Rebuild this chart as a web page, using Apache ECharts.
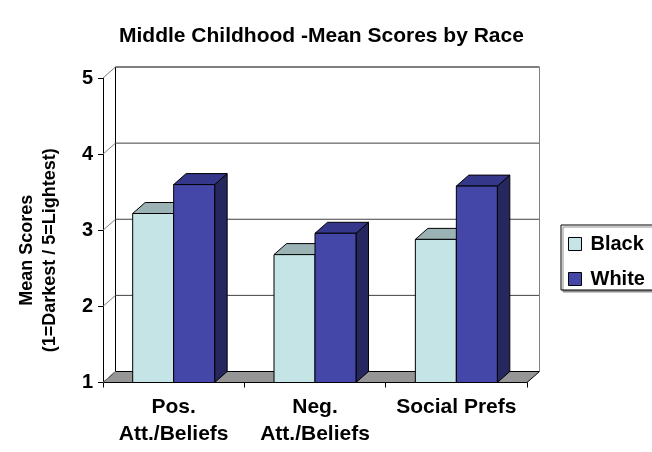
<!DOCTYPE html>
<html>
<head>
<meta charset="utf-8">
<script src="https://cdn.jsdelivr.net/npm/echarts@6/dist/echarts.min.js"></script>
<style>html,body{margin:0;padding:0;background:#fff}#c{width:652px;height:452px}</style>
</head>
<body>
<div id="c"></div>
<script>
const titleText = 'Middle Childhood -Mean Scores by Race';
const categories = ['Pos.\nAtt./Beliefs', 'Neg.\nAtt./Beliefs', 'Social Prefs'];
const seriesNames = ['Black', 'White'];
const blackValues = [3.22, 2.68, 2.88];
const whiteValues = [3.60, 2.96, 3.58];
const yTicks = [1, 2, 3, 4, 5];
const yAxisName = 'Mean Scores\n(1=Darkest / 5=Lightest)';

const FONT = '"Liberation Sans", Arial, sans-serif';
const DX = 12.5, DY = -11;
const BAR_FRAC = 0.29;
const yMin = yTicks[0], yMax = yTicks[yTicks.length - 1];

const colBlack = { front: '#C4E4E6', top: '#9BB3B5', side: '#7E9596' };
const colWhite = { front: '#4447A8', top: '#34378A', side: '#25275E' };

function bgRender(params, api) {
  const cs = params.coordSys;
  const x0 = cs.x, x1 = cs.x + cs.width;
  const yb = api.coord([0, yMin])[1];
  const yt = api.coord([0, yMax])[1];
  const children = [];
  children.push({ type: 'polygon', shape: { points: [[x0, yb], [x1, yb], [x1 + DX, yb + DY], [x0 + DX, yb + DY]] },
    style: { fill: '#969696', stroke: '#000', lineWidth: 1 } });
  yTicks.forEach(function (v) {
    if (v === yMin) return;
    const y = api.coord([0, v])[1];
    children.push({ type: 'line', shape: { x1: x0 + DX, y1: y + DY, x2: x1 + DX, y2: y + DY },
      style: { stroke: v === yMax ? '#000' : '#404040', lineWidth: 1 } });
  });
  children.push({ type: 'line', shape: { x1: x0 + DX, y1: yt + DY, x2: x0 + DX, y2: yb + DY }, style: { stroke: '#000', lineWidth: 1 } });
  children.push({ type: 'line', shape: { x1: x1 + DX, y1: yt + DY, x2: x1 + DX, y2: yb + DY }, style: { stroke: '#808080', lineWidth: 1 } });
  yTicks.forEach(function (v) {
    const y = api.coord([0, v])[1];
    children.push({ type: 'line', shape: { x1: x0, y1: y, x2: x0 + DX, y2: y + DY }, style: { stroke: '#808080', lineWidth: 1 } });
  });
  return { type: 'group', children: children };
}

function makeBarRender(sign, c) {
  return function (params, api) {
    const cat = api.value(0), val = api.value(1);
    const top = api.coord([cat, val]);
    const base = api.coord([cat, yMin]);
    const bw = api.size([1, 0])[0] * BAR_FRAC;
    const xL = sign < 0 ? top[0] - bw : top[0];
    const xR = xL + bw;
    const yT = top[1], yB = base[1];
    return { type: 'group', children: [
      { type: 'polygon', shape: { points: [[xR, yB], [xR + DX, yB + DY], [xR + DX, yT + DY], [xR, yT]] },
        style: { fill: c.side, stroke: '#000', lineWidth: 1 } },
      { type: 'polygon', shape: { points: [[xL, yT], [xL + DX, yT + DY], [xR + DX, yT + DY], [xR, yT]] },
        style: { fill: c.top, stroke: '#000', lineWidth: 1 } },
      { type: 'rect', shape: { x: xL, y: yT, width: bw, height: yB - yT },
        style: { fill: c.front, stroke: '#000', lineWidth: 1 } }
    ] };
  };
}

const chart = echarts.init(document.getElementById('c'), null, { renderer: 'canvas' });
chart.setOption({
  backgroundColor: '#fff',
  animation: false,
  title: { text: titleText, left: 114, top: 21,
    textStyle: { fontFamily: FONT, fontSize: 21, fontWeight: 'bold', color: '#000' } },
  legend: {
    orient: 'vertical', left: 561, top: 225,
    data: seriesNames, icon: 'rect', itemWidth: 13, itemHeight: 13, itemGap: 15,
    padding: [9, 30, 1, 7], borderColor: '#000', borderWidth: 1, backgroundColor: '#fff',
    shadowColor: '#909090', shadowOffsetX: 2, shadowOffsetY: 2, shadowBlur: 0,
    itemStyle: { borderColor: '#000', borderWidth: 1 },
    textStyle: { fontFamily: FONT, fontSize: 20, fontWeight: 'bold', color: '#000', padding: [0, 0, 0, 4] }
  },
  grid: { left: 103, top: 78, width: 424, height: 304.5, containLabel: false },
  xAxis: {
    type: 'category', data: categories, boundaryGap: true,
    axisLine: { show: true, lineStyle: { color: '#000', width: 1 } },
    axisTick: { show: true, length: 5, lineStyle: { color: '#000' } },
    axisLabel: { interval: 0, hideOverlap: false, fontFamily: FONT, fontSize: 21, fontWeight: 'bold', color: '#000', margin: 11, lineHeight: 27 },
    splitLine: { show: false }
  },
  yAxis: {
    type: 'value', min: yMin, max: yMax, interval: 1,
    name: yAxisName, nameLocation: 'middle', nameRotate: 90, nameGap: 41,
    nameTextStyle: { fontFamily: FONT, fontSize: 18, fontWeight: 'bold', color: '#000', lineHeight: 23, padding: [0, 40, 0, 0] },
    axisLine: { show: true, lineStyle: { color: '#000', width: 1 } },
    axisTick: { show: true, length: 5, lineStyle: { color: '#000' } },
    axisLabel: { fontFamily: FONT, fontSize: 20, fontWeight: 'bold', color: '#000', margin: 10 },
    splitLine: { show: false }
  },
  series: [
    { type: 'custom', name: '_bg', silent: true, z: 1, renderItem: bgRender, data: [[0, yMin]], encode: { x: 0, y: 1 } },
    { type: 'custom', name: seriesNames[0], z: 2, itemStyle: { color: colBlack.front },
      renderItem: makeBarRender(-1, colBlack), data: blackValues.map(function (v, i) { return [i, v]; }), encode: { x: 0, y: 1 } },
    { type: 'custom', name: seriesNames[1], z: 3, itemStyle: { color: colWhite.front },
      renderItem: makeBarRender(1, colWhite), data: whiteValues.map(function (v, i) { return [i, v]; }), encode: { x: 0, y: 1 } }
  ]
});
</script>
</body>
</html>
